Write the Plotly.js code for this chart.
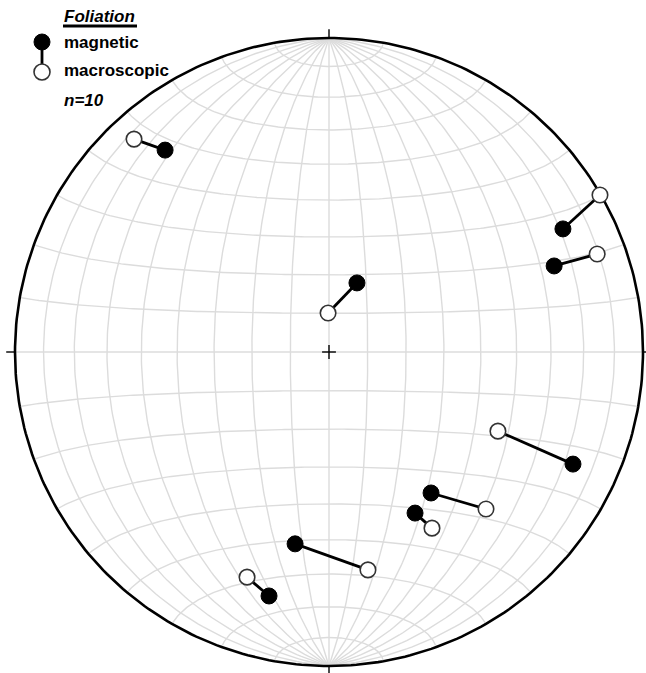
<!DOCTYPE html>
<html>
<head>
<meta charset="utf-8">
<script src="https://cdn.plot.ly/plotly-3.0.1.min.js"></script>
<style>
  html, body { margin: 0; padding: 0; background: #fff; }
  #net { width: 646px; height: 673px; }
</style>
</head>
<body>
<div id="net"></div>
<script>
// Foliation poles in equal-area net coordinates (primitive circle radius = 1)
const siteIds = [1, 2, 3, 4, 5, 6, 7, 8, 9];
const magX = [-0.522, 0.089, 0.745, 0.717, 0.777, 0.325, 0.274, -0.108, -0.191];
const magY = [0.643, 0.220, 0.392, 0.274, -0.357, -0.449, -0.513, -0.611, -0.777];
const macX = [-0.621, -0.003, 0.863, 0.854, 0.538, 0.500, 0.328, 0.124, -0.261];
const macY = [0.678, 0.124, 0.500, 0.312, -0.252, -0.500, -0.561, -0.694, -0.717];

const legendTitle = "Foliation";
const legendLabels = ["magnetic", "macroscopic"];
const countLabel = "n=10";

// Lambert equal-area projection of a lower-hemisphere unit vector (east, north, down)
function project(e, n, d) {
  const k = Math.sqrt(1 / (1 + d));
  return [e * k, n * k];
}

const traces = [];
const gridStyle = { color: "#dcdcdc", width: 1.4 };

// Great circles striking N-S (meridians), every 10 degrees of dip
for (let dip = 10; dip <= 170; dip += 10) {
  const xs = [], ys = [];
  const dr = dip * Math.PI / 180;
  for (let t = 0; t <= 180; t += 1) {
    const tr = t * Math.PI / 180;
    const p = project(Math.sin(tr) * Math.cos(dr), Math.cos(tr), Math.sin(tr) * Math.sin(dr));
    xs.push(p[0]); ys.push(p[1]);
  }
  traces.push({ x: xs, y: ys, mode: "lines", line: gridStyle, hoverinfo: "skip", showlegend: false });
}
// Small circles about the N-S axis (parallels)
for (let a = 10; a <= 170; a += 10) {
  const xs = [], ys = [];
  const ar = a * Math.PI / 180;
  for (let f = 0; f <= 180; f += 1) {
    const fr = f * Math.PI / 180;
    const p = project(Math.sin(ar) * Math.cos(fr), Math.cos(ar), Math.sin(ar) * Math.sin(fr));
    xs.push(p[0]); ys.push(p[1]);
  }
  traces.push({ x: xs, y: ys, mode: "lines", line: gridStyle, hoverinfo: "skip", showlegend: false });
}

// Primitive circle
{
  const xs = [], ys = [];
  for (let t = 0; t <= 360; t += 1) {
    xs.push(Math.cos(t * Math.PI / 180)); ys.push(Math.sin(t * Math.PI / 180));
  }
  traces.push({ x: xs, y: ys, mode: "lines", line: { color: "#000", width: 2.6 }, hoverinfo: "skip", showlegend: false });
}

// N, E, S, W ticks and centre cross
const tk = 0.028, cc = 0.022;
traces.push({
  x: [0, 0, null, 0, 0, null, -1, -1 - tk, null, 1, 1 + tk, null, -cc, cc, null, 0, 0],
  y: [1, 1 + tk, null, -1, -1 - tk, null, 0, 0, null, 0, 0, null, 0, 0, null, -cc, cc],
  mode: "lines", line: { color: "#000", width: 1.4 }, hoverinfo: "skip", showlegend: false
});

// Tie lines joining magnetic and macroscopic poles of each site
const tieX = [], tieY = [];
siteIds.forEach((id, i) => {
  tieX.push(magX[i], macX[i], null);
  tieY.push(magY[i], macY[i], null);
});
traces.push({ x: tieX, y: tieY, mode: "lines", line: { color: "#000", width: 2.8 }, hoverinfo: "skip", showlegend: false });

traces.push({
  x: macX, y: macY, mode: "markers", name: legendLabels[1], showlegend: false,
  marker: { size: 15.5, color: "#fff", line: { color: "#333", width: 1.6 } }
});
traces.push({
  x: magX, y: magY, mode: "markers", name: legendLabels[0], showlegend: false,
  marker: { size: 16, color: "#000", line: { color: "#000", width: 1 } }
});

// Pixel helpers for the key in the upper-left corner
const W = 646, H = 673;
const px = v => v / W;
const py = v => 1 - v / H;
const font = "Arial, 'Liberation Sans', sans-serif";
const keyR = 8;

const layout = {
  width: W, height: H,
  margin: { l: 0, r: 0, t: 0, b: 0 },
  paper_bgcolor: "#fff", plot_bgcolor: "#fff",
  showlegend: false,
  xaxis: { range: [-329 / 314, 317 / 314], visible: false, showgrid: false, zeroline: false, fixedrange: true },
  yaxis: { range: [-321 / 314, 352 / 314], visible: false, showgrid: false, zeroline: false, fixedrange: true },
  shapes: [
    { type: "line", xref: "paper", yref: "paper", x0: px(63), x1: px(137), y0: py(26), y1: py(26), line: { color: "#000", width: 3.2 } },
    { type: "line", xref: "paper", yref: "paper", x0: px(42), x1: px(42), y0: py(42), y1: py(72), line: { color: "#000", width: 2.8 } },
    { type: "circle", xref: "paper", yref: "paper", x0: px(42 - keyR), x1: px(42 + keyR), y0: py(42 - keyR), y1: py(42 + keyR), fillcolor: "#000", line: { color: "#000", width: 1 } },
    { type: "circle", xref: "paper", yref: "paper", x0: px(42 - keyR), x1: px(42 + keyR), y0: py(72 - keyR), y1: py(72 + keyR), fillcolor: "#fff", line: { color: "#333", width: 1.6 } }
  ],
  annotations: [
    { xref: "paper", yref: "paper", x: px(62), y: py(16), xanchor: "left", yanchor: "middle", showarrow: false,
      text: "<b><i>" + legendTitle + "</i></b>", font: { family: font, size: 17, color: "#000" } },
    { xref: "paper", yref: "paper", x: px(62), y: py(42), xanchor: "left", yanchor: "middle", showarrow: false,
      text: "<b>" + legendLabels[0] + "</b>", font: { family: font, size: 17, color: "#000" } },
    { xref: "paper", yref: "paper", x: px(62), y: py(71), xanchor: "left", yanchor: "middle", showarrow: false,
      text: "<b>" + legendLabels[1] + "</b>", font: { family: font, size: 17, color: "#000" } },
    { xref: "paper", yref: "paper", x: px(62), y: py(100), xanchor: "left", yanchor: "middle", showarrow: false,
      text: "<b><i>" + countLabel + "</i></b>", font: { family: font, size: 17, color: "#000" } }
  ]
};

Plotly.newPlot("net", traces, layout, { displayModeBar: false, staticPlot: true });
</script>
</body>
</html>
